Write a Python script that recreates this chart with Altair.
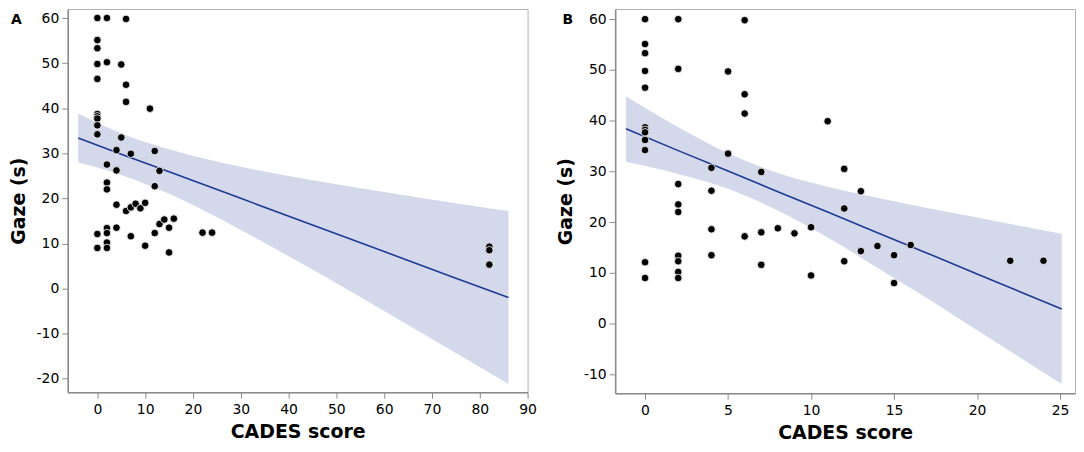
import altair as alt
import pandas as pd

# ---- scatter data (CADES score, Gaze seconds) ----
cades = [0, 0, 0, 0, 0, 0, 0, 0, 0, 0, 0, 0,
         2, 2, 2, 2, 2, 2, 2, 2, 2,
         4, 4, 4, 4,
         5, 5,
         6, 6, 6, 6,
         7, 7, 7,
         8, 9, 10, 10, 11,
         12, 12, 12, 13, 13, 14, 15, 15, 16, 22, 24]
gaze = [60.0, 55.1, 53.3, 49.8, 46.5, 38.7, 38.2, 37.7, 36.2, 34.2, 12.1, 9.0,
        60.0, 50.2, 27.5, 23.5, 22.0, 13.4, 12.3, 10.2, 9.0,
        30.7, 26.2, 18.6, 13.5,
        49.7, 33.5,
        59.8, 45.2, 41.4, 17.2,
        29.9, 18.0, 11.6,
        18.8, 17.8, 19.0, 9.5, 39.9,
        30.5, 22.7, 12.3, 26.1, 14.3, 15.3, 13.5, 8.0, 15.5, 12.4, 12.4]
# extra outliers only present in panel A
cades_out = [82, 82, 82]
gaze_out = [9.3, 8.5, 5.3]

# ---- fitted line and 95% band ----
a_x = [-4, 5, 15, 30, 45, 60, 75, 86]
a_fit = [33.4, 29.8, 25.9, 20.0, 14.1, 8.2, 2.3, -2.0]
a_lo = [28.0, 25.2, 21.0, 13.0, 4.2, -5.0, -14.3, -21.2]
a_hi = [38.8, 34.4, 30.9, 27.0, 24.0, 21.4, 18.9, 17.2]

# ---- fitted line and 95% band ----
b_x = [-1.15, 2, 5, 8, 11, 14, 17, 20, 25.1]
b_fit = [38.4, 34.1, 30.1, 26.0, 22.0, 17.9, 13.9, 9.8, 2.9]
b_lo = [31.9, 29.5, 26.6, 22.3, 17.0, 11.0, 5.0, -1.3, -11.9]
b_hi = [44.8, 38.7, 33.6, 29.7, 27.0, 24.8, 22.8, 20.9, 17.7]

a_xticks = [0, 10, 20, 30, 40, 50, 60, 70, 80, 90]
a_yticks = [-20, -10, 0, 10, 20, 30, 40, 50, 60]
b_xticks = [0, 5, 10, 15, 20, 25]
b_yticks = [-10, 0, 10, 20, 30, 40, 50, 60]

FONT = "DejaVu Sans"
BAND = "#d3d8ea"
LINE = "#1f3a94"
LBL = "datum.value < 0 ? '-' + abs(datum.value) : '' + datum.value"


def panel(px, py, bx, bfit, blo, bhi, xdom, ydom, xticks, yticks, w, h, letter, lx):
    pts = pd.DataFrame({"x": px, "y": py})
    band = pd.DataFrame({"x": bx, "fit": bfit, "lo": blo, "hi": bhi})
    xs = alt.Scale(domain=xdom, nice=False, zero=False)
    ys = alt.Scale(domain=ydom, nice=False, zero=False)
    xax = alt.Axis(values=xticks, title="CADES score", labelExpr=LBL,
                   labelPadding=4, titlePadding=6)
    yax = alt.Axis(values=yticks, title="Gaze (s)", labelExpr=LBL,
                   labelPadding=3, titlePadding=8)
    area = alt.Chart(band).mark_area(color=BAND, opacity=1, interpolate="monotone").encode(
        x=alt.X("x:Q", scale=xs, axis=xax),
        y=alt.Y("lo:Q", scale=ys, axis=yax),
        y2="hi:Q",
    )
    line = alt.Chart(band).mark_line(color=LINE, strokeWidth=1.6).encode(
        x=alt.X("x:Q", scale=xs),
        y=alt.Y("fit:Q", scale=ys),
    )
    dots = alt.Chart(pts).mark_circle(size=58, color="black", opacity=1,
                                      stroke="white", strokeWidth=0.8).encode(
        x=alt.X("x:Q", scale=xs),
        y=alt.Y("y:Q", scale=ys),
    )
    lab = alt.Chart(pd.DataFrame({"t": [letter]})).mark_text(
        font=FONT, fontSize=14, fontWeight="bold", align="left", baseline="top", color="black"
    ).encode(x=alt.value(lx), y=alt.value(4), text="t:N")
    return alt.layer(area, line, dots, lab).properties(width=w, height=h)


pa = panel(cades + cades_out, gaze + gaze_out, a_x, a_fit, a_lo, a_hi,
           [-6.2, 90], [-23, 62], a_xticks, a_yticks, 462, 385, "A", -57)
pb = panel(cades, gaze, b_x, b_fit, b_lo, b_hi,
           [-1.8, 25.9], [-13.7, 62], b_xticks, b_yticks, 462, 386, "B", -53)

chart = alt.hconcat(pa, pb, spacing=18).properties(
    padding={"left": 0, "top": -1, "right": 0, "bottom": 0}
).configure_view(
    stroke="#b0b0b0", strokeWidth=1
).configure_axis(
    grid=False,
    domainColor="#8a8a8a", domainWidth=1.5,
    tickColor="#8a8a8a", tickSize=6, tickWidth=1,
    labelFont=FONT, labelFontSize=14, labelColor="black",
    titleFont=FONT, titleFontSize=19, titleFontWeight="bold", titleColor="black",
    labelFlush=False,
)

chart.save("out.html", embed_options={"renderer": "svg", "actions": False})
